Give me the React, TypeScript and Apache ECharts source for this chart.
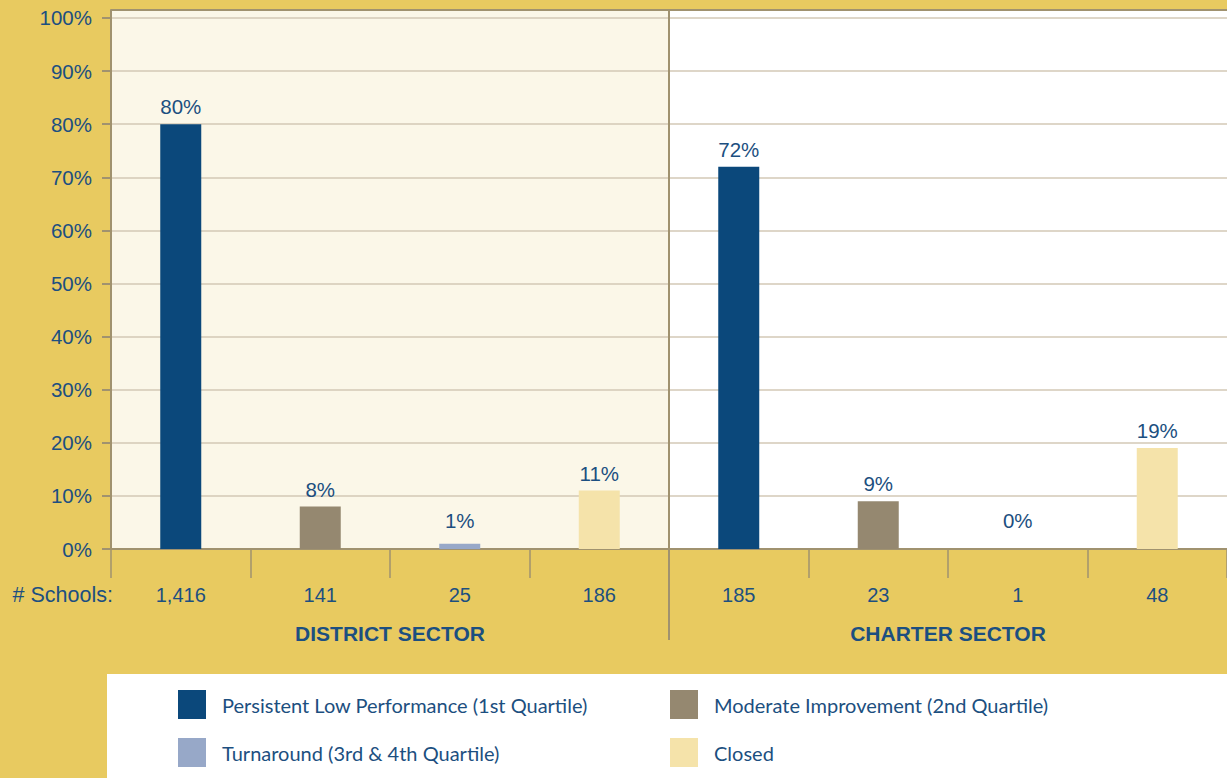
import React, { useEffect, useRef } from "react";
import * as echarts from "echarts";

const categories = ["1,416", "141", "25", "186", "185", "23", "1", "48"];
const seriesNames = [
  "Persistent Low Performance (1st Quartile)",
  "Moderate Improvement (2nd Quartile)",
  "Turnaround (3rd & 4th Quartile)",
  "Closed",
];
const districtValues = [80, 8, 1, 11];
const charterValues = [72, 9, 0, 19];
const sectorLabels = ["DISTRICT SECTOR", "CHARTER SECTOR"];
const yTicks = [0, 10, 20, 30, 40, 50, 60, 70, 80, 90, 100];
const colors = ["#0B487B", "#958870", "#97A8C8", "#F5E3AA"];

const TEXT = "#1C4F80";
const AXIS = "#A0926F";

export default function App() {
  const ref = useRef<HTMLDivElement>(null);
  useEffect(() => {
    if (!ref.current) return;
    const chart = echarts.init(ref.current, null, { renderer: "svg" });
    const W = 1227;
    const H = 778;
    const gridLeft = 111;
    const gridTop = 10;
    const gridBottom = 229;
    const plotBottom = H - gridBottom;
    const yMax = 101.5;
    const pxPerUnit = (plotBottom - gridTop) / yMax;
    const midX = gridLeft + (W - gridLeft) / 2;

    const series = seriesNames.map((name, i) => {
      const data = categories.map((_, ci) => {
        let v: number | null = null;
        if (ci === i) v = districtValues[i];
        if (ci === i + 4) v = charterValues[i];
        if (v === null) return "-";
        const item: any = { value: v };
        if (v < 2) {
          item.label = { offset: [0, -(2 - v) * pxPerUnit] };
        }
        return item;
      });
      return {
        name,
        type: "bar",
        data,
        barWidth: 41,
        barGap: "-100%",
        itemStyle: { color: colors[i] },
        label: {
          show: true,
          position: "top",
          distance: 7,
          formatter: "{c}%",
          color: TEXT,
          fontSize: 20.5,
          fontFamily: "Liberation Sans, Arial, sans-serif",
        },
      };
    });

    const legendBase = {
      orient: "vertical",
      top: 690,
      padding: 0,
      itemWidth: 28,
      itemHeight: 29,
      itemGap: 19,
      icon: "rect",
      selectedMode: false,
      textStyle: {
        color: TEXT,
        fontSize: 20,
        fontFamily: "Lato, sans-serif",
        padding: [0, 0, 0, 11],
      },
    };

    chart.setOption({
      animation: false,
      backgroundColor: "#E8CA60",
      grid: { left: gridLeft, right: 0, top: gridTop, bottom: gridBottom },
      legend: [
        { ...legendBase, data: [seriesNames[0], seriesNames[2]], left: 178 },
        { ...legendBase, data: [seriesNames[1], seriesNames[3]], left: 670 },
      ],
      xAxis: {
        type: "category",
        data: categories,
        axisLine: { show: true, lineStyle: { color: AXIS, width: 2 } },
        axisTick: { show: true, length: 29, lineStyle: { color: AXIS, width: 1.5 } },
        axisLabel: {
          margin: 36,
          color: TEXT,
          fontSize: 20,
          fontFamily: "Liberation Sans, Arial, sans-serif",
        },
      },
      yAxis: {
        type: "value",
        min: yTicks[0],
        max: yMax,
        interval: yTicks[1] - yTicks[0],
        axisLine: { show: true, lineStyle: { color: AXIS, width: 2 } },
        axisTick: { show: true, length: 9, lineStyle: { color: AXIS, width: 2 } },
        splitLine: { show: true, lineStyle: { color: "#D3C9B6", width: 1.5 } },
        axisLabel: {
          margin: 19,
          color: TEXT,
          fontSize: 20.5,
          fontFamily: "Liberation Sans, Arial, sans-serif",
          showMaxLabel: false,
          formatter: (v: number) => (yTicks.includes(v) ? v + "%" : ""),
        },
      },
      graphic: [
        {
          type: "rect",
          z: -10,
          shape: { x: gridLeft, y: gridTop, width: midX - gridLeft, height: plotBottom - gridTop },
          style: { fill: "#FBF7E8" },
        },
        {
          type: "rect",
          z: -10,
          shape: { x: midX, y: gridTop, width: W - midX, height: plotBottom - gridTop },
          style: { fill: "#FFFFFF" },
        },
        {
          type: "line",
          z: 10,
          shape: { x1: gridLeft, y1: gridTop, x2: W, y2: gridTop },
          style: { stroke: AXIS, lineWidth: 2 },
        },
        {
          type: "line",
          z: 10,
          shape: { x1: midX, y1: gridTop, x2: midX, y2: 640 },
          style: { stroke: AXIS, lineWidth: 2 },
        },
        {
          type: "rect",
          z: -10,
          shape: { x: 107, y: 674, width: W - 107, height: H - 674 },
          style: { fill: "#FFFFFF" },
        },
        {
          type: "text",
          x: 113,
          y: 595,
          style: {
            text: "# Schools:",
            fill: TEXT,
            fontSize: 21.5,
            fontFamily: "Liberation Sans, Arial, sans-serif",
            align: "right",
            verticalAlign: "middle",
          },
        },
        {
          type: "text",
          x: (gridLeft + midX) / 2,
          y: 633,
          style: {
            text: sectorLabels[0],
            fill: TEXT,
            fontSize: 21,
            fontWeight: "bold",
            fontFamily: "Liberation Sans, Arial, sans-serif",
            align: "center",
            verticalAlign: "middle",
          },
        },
        {
          type: "text",
          x: (midX + W) / 2,
          y: 633,
          style: {
            text: sectorLabels[1],
            fill: TEXT,
            fontSize: 21,
            fontWeight: "bold",
            fontFamily: "Liberation Sans, Arial, sans-serif",
            align: "center",
            verticalAlign: "middle",
          },
        },
      ],
      series,
    });
    return () => chart.dispose();
  }, []);
  return (
    <div
      ref={ref}
      style={{ position: "fixed", left: 0, top: 0, width: 1227, height: 778 }}
    />
  );
}
